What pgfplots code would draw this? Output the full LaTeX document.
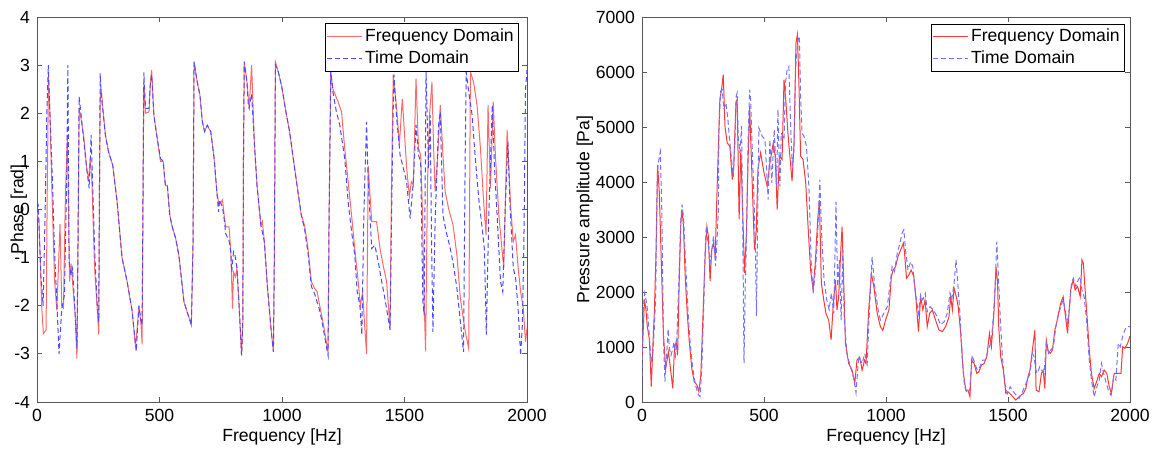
\documentclass[border=0pt]{standalone}
\usepackage{fontspec}
\setmainfont{Liberation Sans}
\usepackage{pgfplots}
\usepackage{pgfplotstable}
\pgfplotsset{compat=1.18}

\definecolor{redL}{RGB}{255,105,105}
\definecolor{blueL}{RGB}{75,75,255}
\definecolor{redR}{RGB}{255,55,55}
\definecolor{blueR}{RGB}{115,115,255}

% phase, frequency domain
\pgfplotstableread{
f p
0 -0.05
8 -0.25
19 -2.0
26 -2.58
37 -2.5
42 0.5
47 2.75
53 1.96
62 0.2
72 -1.5
81 -2.1
94 -0.3
101 -2.0
108 -2.05
116 0.3
124 1.55
133 -1.5
139 -1.12
145 -1.5
156 -2.2
163 -3.1
167 -0.95
172 2.06
176 2.0
190 1.55
204 0.8
211 0.65
217 1.06
224 0.6
235 -1.2
245 -2.0
252 -2.6
255 0.5
258 2.3
262 2.5
279 1.55
292 1.2
309 0.92
327 0.16
347 -1.0
368 -1.5
388 -2.1
402 -2.85
410 -2.4
416 -2.0
424 -2.35
429 -2.8
433 0.5
436 2.65
443 2.0
457 2.03
463 2.65
468 2.9
477 1.96
490 1.5
504 1.0
515 1.0
524 0.5
532 0.5
542 -0.12
552 -0.36
566 -0.6
579 -0.95
600 -1.92
613 -2.13
630 -2.4
637 -0.67
641 3.07
654 2.65
665 2.38
675 1.82
684 1.62
695 1.75
709 1.62
723 1.06
734 0.37
743 0.09
757 0.2
764 -0.12
770 -0.36
784 -0.36
791 -0.88
798 -2.06
802 -1.3
810 -1.4
816 -1.22
825 -2.0
835 -3.03
840 -2.33
843 1.27
846 3.07
857 2.65
866 2.1
876 3.0
887 1.4
898 0.5
914 -0.33
920 -0.25
928 -0.67
941 -1.64
955 -2.47
965 -2.96
969 -0.81
973 3.07
985 2.86
999 2.55
1016 2.03
1031 1.62
1044 1.13
1065 0.37
1079 -0.12
1092 -0.33
1106 -0.81
1120 -1.5
1133 -1.64
1143 -1.7
1154 -2.0
1167 -2.33
1181 -2.75
1188 -2.95
1192 -0.25
1199 2.86
1208 2.5
1229 2.24
1243 2.03
1256 1.27
1270 0.58
1284 -0.12
1297 -0.81
1311 -1.5
1320 -2.0
1329 -1.71
1336 -2.3
1345 -3.0
1352 0.9
1366 -0.25
1386 -0.25
1400 -0.81
1413 -1.16
1427 -1.5
1441 -2.47
1447 0.5
1454 2.8
1468 2.1
1479 1.34
1491 2.3
1502 1.41
1509 0.85
1520 0.27
1528 0.58
1536 0.5
1547 2.72
1557 1.27
1566 1.13
1573 0.0
1580 -1.85
1586 -2.95
1594 0.58
1602 1.96
1612 2.65
1618 1.41
1625 0.37
1635 1.06
1646 2.17
1657 1.13
1666 0.37
1680 0.02
1698 -0.32
1714 -0.95
1728 -1.85
1748 -2.54
1762 -2.89
1769 2.86
1782 2.65
1796 2.17
1810 1.27
1823 0.16
1833 -0.53
1841 2.17
1851 0.44
1862 2.24
1871 1.13
1885 -0.12
1905 -1.22
1919 1.65
1933 0.09
1944 -0.67
1953 -0.53
1963 -1.16
1974 -1.71
1985 -2.06
1994 -2.75
2000 -2.47
}\phasefreq

% phase, time domain
\pgfplotstableread{
f p
0 0.16
5 0.1
16 -1.37
25 -2.0
33 -0.12
40 1.96
46 3.0
53 1.96
63 0.58
71 -0.81
81 -1.92
90 -3.0
101 -2.06
112 -1.78
121 0.58
126 3.0
131 -1.09
139 -1.37
145 -1.23
153 -1.92
163 -2.89
167 -0.9
172 2.34
183 1.82
197 1.13
206 0.72
213 0.44
221 1.55
227 0.58
235 -0.81
245 -1.92
252 -2.33
255 0.5
258 2.83
262 2.4
279 1.55
292 1.2
309 0.92
327 0.16
347 -1.0
368 -1.5
388 -2.1
405 -2.95
416 -2.0
424 -2.3
429 -2.4
433 0.5
436 2.85
443 2.1
457 2.1
463 2.65
468 2.8
477 1.96
490 1.5
504 1.06
515 1.0
524 0.5
532 0.5
542 -0.12
552 -0.36
566 -0.6
579 -0.95
600 -1.92
613 -2.13
630 -2.4
637 -0.67
641 3.07
654 2.65
665 2.38
675 1.82
684 1.62
695 1.75
709 1.62
723 1.06
734 0.37
741 -0.05
745 0.2
757 0.05
764 -0.2
770 -0.5
784 -0.65
791 -0.88
795 -1.3
802 -0.88
808 -0.95
816 -1.22
825 -2.0
835 -3.03
840 -2.33
843 1.27
846 3.07
857 2.65
862 2.2
866 2.1
876 2.4
887 1.4
898 0.5
914 -0.33
928 -0.67
941 -1.64
955 -2.47
965 -2.96
969 -0.81
973 3.0
985 2.86
999 2.55
1016 2.03
1031 1.62
1044 1.13
1065 0.37
1079 -0.12
1092 -0.4
1106 -0.9
1120 -1.6
1133 -1.75
1154 -2.1
1167 -2.43
1181 -2.85
1188 -3.03
1192 -0.25
1199 2.86
1208 2.44
1222 2.03
1236 1.75
1256 1.06
1270 0.16
1284 -0.46
1297 -0.95
1307 -1.71
1318 -2.0
1326 -2.6
1334 -0.12
1345 1.82
1352 0.58
1366 -0.81
1379 -0.74
1393 -1.09
1407 -1.5
1420 -1.85
1441 -2.5
1452 1.62
1457 2.8
1468 1.9
1482 1.13
1502 0.72
1509 0.55
1523 -0.19
1536 0.58
1547 1.76
1557 1.13
1566 1.0
1575 -1.92
1580 -2.2
1588 2.86
1598 0.85
1605 1.96
1610 -0.5
1616 -2.54
1625 -0.25
1639 1.75
1646 2.03
1657 -0.12
1670 -0.46
1687 -0.81
1700 -1.16
1714 -1.64
1728 -2.33
1741 -2.96
1748 1.27
1752 2.86
1762 2.45
1776 1.96
1789 1.06
1803 0.23
1817 -0.39
1826 -0.81
1834 -2.6
1844 -0.12
1858 2.17
1867 0.92
1878 -0.12
1892 -1.5
1901 -1.71
1912 0.16
1922 1.41
1930 0.16
1944 -1.22
1953 -1.4
1963 -2.0
1974 -3.03
1981 -2.4
1987 -0.81
1994 2.5
2000 2.9
}\phasetime

% pressure amplitude, frequency domain
\pgfplotstableread{
f a
0 770
10 1860
16 1690
22 1360
30 1150
38 280
44 970
51 1690
57 2650
64 4310
71 3800
78 2710
88 1210
97 610
108 910
115 670
126 250
133 970
140 1090
146 850
153 2290
159 3250
164 3500
170 3190
177 2290
186 1570
194 1090
204 610
214 370
225 310
233 190
241 490
249 1450
259 2710
266 3190
272 3010
279 2200
286 2770
293 2890
300 2650
308 3920
319 5500
326 5680
333 5950
340 5015
349 4710
360 4650
370 4045
376 4290
385 5440
390 5500
398 3320
405 4590
412 3560
420 2350
428 3075
434 4290
441 5380
446 4710
453 3800
461 2770
468 3075
475 4230
486 4530
500 4170
513 3920
524 4350
538 4710
546 4470
554 3500
563 4470
574 4410
582 5860
590 5440
598 4890
606 4470
615 4015
623 4710
631 6530
637 6680
643 5800
650 4470
660 4410
671 3980
682 3075
691 2400
701 2045
710 2520
720 3310
727 3670
735 2160
745 1850
754 1610
765 1490
775 1130
784 1790
793 2220
799 1670
806 1910
814 2700
820 3190
827 2100
834 1060
847 700
861 580
872 340
881 760
892 820
902 580
912 760
918 700
929 1670
940 2340
950 2100
964 1610
977 1370
987 1300
998 1490
1012 1670
1022 2280
1029 2400
1039 2460
1049 2644
1060 2765
1071 2887
1076 2705
1084 2250
1094 2310
1103 2400
1114 2280
1121 1976
1133 1280
1142 1915
1151 1673
1160 1855
1169 1370
1179 1612
1190 1673
1203 1490
1217 1310
1231 1280
1244 1370
1258 1550
1265 1915
1272 1673
1279 2067
1288 1915
1296 1730
1306 1250
1317 520
1327 216
1336 216
1344 95
1351 760
1361 700
1372 520
1381 550
1391 670
1402 700
1413 820
1424 1250
1432 1005
1443 1673
1451 2450
1457 2190
1462 1370
1470 820
1481 580
1491 155
1500 185
1514 125
1532 35
1546 100
1563 155
1573 245
1582 460
1590 580
1600 945
1610 1310
1615 216
1627 185
1637 520
1644 580
1651 245
1657 1125
1664 945
1673 885
1682 945
1692 1310
1699 1430
1707 1612
1716 1795
1726 1915
1734 1612
1744 1250
1751 1673
1757 2037
1767 2220
1775 2037
1785 2100
1796 1915
1803 2585
1809 2520
1815 2100
1823 1612
1833 945
1842 520
1853 245
1863 370
1874 520
1883 460
1894 580
1905 520
1915 276
1924 155
1935 520
1963 520
1970 1005
1979 975
1990 1065
2000 1200
}\ampfreq

% pressure amplitude, time domain
\pgfplotstableread{
f a
0 470
5 1690
11 1980
16 1870
22 1690
30 1210
37 730
44 850
51 1390
56 1930
63 4220
71 4460
75 4550
81 3500
88 1150
94 370
101 850
107 1330
112 970
119 850
126 970
131 1090
137 850
142 1090
149 1930
159 3310
164 3590
170 3370
178 2590
188 1690
197 1090
208 610
219 310
231 130
238 100
245 610
252 1570
259 2770
263 3190
271 2890
279 2530
286 2770
293 3010
301 2470
307 2890
313 3500
315 4890
322 5650
329 5680
335 5320
344 5440
352 5140
360 4710
367 4410
374 4100
381 4770
386 5560
390 5620
394 4830
401 4530
408 5015
413 3075
418 710
423 2100
428 2950
435 4770
441 5680
445 5500
452 4590
459 3680
465 2770
469 1560
475 3680
479 4985
493 4830
504 4770
517 3680
524 4770
532 3980
542 4955
552 3920
557 5320
565 3920
571 4890
582 4770
588 5800
595 6045
602 6100
609 5015
616 4290
623 4590
630 6100
639 6590
645 6650
650 5560
656 4890
664 4830
674 4650
684 3920
694 2470
702 1980
712 2470
719 2950
729 4045
736 3075
746 2225
757 1860
767 1680
776 1980
786 1610
795 3640
802 2100
809 2580
816 1490
823 2760
829 1490
840 880
854 640
868 430
877 170
888 820
902 700
913 880
923 700
932 1670
943 2640
954 2100
968 1670
977 1490
991 1610
1005 1730
1018 2200
1025 2460
1035 2370
1046 2705
1057 2887
1066 3070
1073 3130
1080 2765
1090 2400
1101 2550
1110 2460
1117 2100
1125 1855
1133 1612
1142 1946
1151 1855
1161 1976
1169 1643
1180 1734
1194 1673
1210 1550
1224 1400
1238 1460
1251 1612
1262 1976
1269 1855
1279 2160
1287 2585
1295 2100
1303 1612
1313 760
1322 276
1333 155
1343 216
1353 850
1364 700
1374 580
1385 640
1396 760
1407 760
1418 940
1429 1065
1437 1370
1446 1976
1454 2917
1459 2460
1468 1550
1477 820
1487 338
1498 155
1509 276
1522 185
1545 65
1559 185
1568 276
1579 400
1590 520
1600 885
1607 820
1614 580
1620 520
1630 640
1638 580
1648 520
1657 1065
1666 885
1675 945
1686 1005
1696 1370
1705 1550
1716 1734
1726 1855
1734 1673
1744 1430
1752 1734
1760 2160
1768 2250
1778 2100
1788 2220
1796 2280
1803 2037
1812 1915
1822 1490
1833 760
1842 400
1853 95
1864 276
1874 400
1883 700
1892 520
1901 370
1911 216
1922 125
1933 460
1942 400
1952 1065
1960 1005
1970 1190
1979 1310
1987 1370
2000 1370
}\amptime

\pgfplotsset{
  matlab/.style={
    scale only axis,
    width=245pt, height=192.5pt,
    xmin=0, xmax=2000,
    xtick={0,500,1000,1500,2000},
    tick align=inside,
    major tick length=2.5pt,
    axis line style={black!65},
    every tick/.style={black!65},
    /pgf/number format/assume math mode=true,
    /pgf/number format/1000 sep={},
    tick label style={font=\fontsize{8.8}{10}\selectfont},
    label style={font=\fontsize{8.8}{10}\selectfont},
    xlabel={Frequency [Hz]},
    xlabel style={at={(axis description cs:0.5,-0.091)}, anchor=center},
    legend cell align=left,
    legend style={font=\fontsize{8.8}{10}\selectfont, draw=black, fill=white,
      inner xsep=1pt, inner ysep=1pt, nodes={inner sep=1.5pt, text depth=0.15em},
      anchor=north east},
  },
  fdl/.style={line width=0.5pt},
  tdl/.style={line width=0.5pt, dash pattern=on 2.5pt off 1.5pt},
}

\begin{document}
\begin{tikzpicture}
\useasboundingbox (-18.5pt,-24pt) rectangle (559pt,201pt);

\begin{axis}[matlab,
    at={(0pt,0pt)}, anchor=south west,
    ymin=-4, ymax=4, ytick={-4,-3,...,4},
    ylabel={Phase [rad]},
    ylabel style={at={(axis description cs:-0.037,0.5)}, anchor=center},
    legend style={at={(axis description cs:0.984,0.984)}},
]
\addplot[fdl, color=redL] table[x=f, y=p] {\phasefreq};
\addplot[tdl, color=blueL] table[x=f, y=p] {\phasetime};
\legend{Frequency Domain, Time Domain}
\end{axis}

\begin{axis}[matlab,
    at={(302.5pt,0pt)}, anchor=south west,
    width=244pt,
    ymin=0, ymax=7000, ytick={0,1000,...,7000},
    ylabel={Pressure amplitude [Pa]},
    ylabel style={at={(axis description cs:-0.117,0.5)}, anchor=center},
    legend style={at={(axis description cs:0.99,0.983)}},
]
\addplot[fdl, color=redR] table[x=f, y=a] {\ampfreq};
\addplot[tdl, color=blueR] table[x=f, y=a] {\amptime};
\legend{Frequency Domain, Time Domain}
\end{axis}
\end{tikzpicture}
\end{document}
